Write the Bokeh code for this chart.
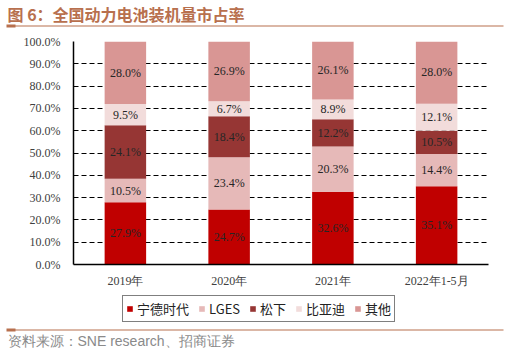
import numpy as np
from bokeh.plotting import figure
from bokeh.layouts import column
from bokeh.models import (ColumnDataSource, FactorRange, LabelSet, Legend,
                          LegendItem, PrintfTickFormatter, FixedTicker, Range1d)
from bokeh.core.properties import value
from bokeh.embed import file_html
from bokeh.resources import INLINE

categories = ["2019年", "2020年", "2021年", "2022年1-5月"]
series_names = ["宁德时代", "LGES", "松下", "比亚迪", "其他"]
catl = [27.9, 24.7, 32.6, 35.1]
lges = [10.5, 23.4, 20.3, 14.4]
panasonic = [24.1, 18.4, 12.2, 10.5]
byd = [9.5, 6.7, 8.9, 12.1]
others = [28.0, 26.9, 26.1, 28.0]
y_ticks = [0, 10, 20, 30, 40, 50, 60, 70, 80, 90, 100]
title_text = "图 6：全国动力电池装机量市占率"
source_text = "资料来源：SNE research、招商证券"

colors = ["#C00000", "#E6B9B8", "#963634", "#F2DCDB", "#D99694"]
keys = ["s0", "s1", "s2", "s3", "s4"]
series = [catl, lges, panasonic, byd, others]
brown = "#B8704E"

W = 511
HEAD_H = 33
MAIN_BOTTOM = 290
MAIN_H = MAIN_BOTTOM - HEAD_H
FOOT_H = 351 - MAIN_BOTTOM
L, R, T, B = 73, 488, 41, 264


def deco_fig(h):
    f = figure(width=W, height=h, x_range=Range1d(0, W), y_range=Range1d(h, 0),
               output_backend="svg", toolbar_location=None, title=None,
               x_axis_location=None, y_axis_location=None,
               min_border=0, min_border_left=0, min_border_right=0,
               min_border_top=0, min_border_bottom=0, frame_align=False)
    f.grid.visible = False
    f.outline_line_color = None
    f.background_fill_color = "white"
    f.border_fill_color = "white"
    return f


# header
head = deco_fig(HEAD_H)
head.text(x=[7], y=[13], text=[title_text], text_font=value("Noto Sans CJK SC"),
          text_font_style="bold", text_font_size="16px", text_color=brown,
          text_baseline="middle")
head.line(x=[7, 503], y=[25.5, 25.5], line_color=brown, line_width=1.2)
head.line(x=[6, 15], y=[25.5, 25.5], line_color=brown, line_width=2.8)

# main chart
data = {"cat": categories}
for k, s in zip(keys, series):
    data[k] = s
src = ColumnDataSource(data)

p = figure(x_range=FactorRange(*categories), y_range=(0, 100), width=W, height=MAIN_H,
           output_backend="svg", toolbar_location=None, frame_align=False, title=None,
           min_border_left=L, min_border_right=W - R, min_border_top=T - HEAD_H,
           min_border_bottom=MAIN_BOTTOM - B)
p.outline_line_color = None
p.background_fill_color = "white"
p.border_fill_color = None

p.vbar_stack(keys, x="cat", width=0.4, color=colors, line_color=None, source=src)

arr = np.array(series)
cum = np.cumsum(arr, axis=0)
lx, ly, lt = [], [], []
for i in range(arr.shape[0]):
    for j, c in enumerate(categories):
        lx.append(c)
        ly.append(cum[i, j] - arr[i, j] / 2)
        lt.append(f"{arr[i, j]:.1f}%")
lsrc = ColumnDataSource(dict(x=lx, y=ly, t=lt))
p.add_layout(LabelSet(x="x", y="y", text="t", source=lsrc, text_align="center",
                      text_baseline="middle", text_font="Liberation Serif",
                      text_font_size="12px", text_color="#262626"))

p.xgrid.visible = False
p.ygrid.grid_line_color = "black"
p.ygrid.grid_line_dash = "5 3"
p.ygrid.grid_line_width = 1.2
p.yaxis.ticker = FixedTicker(ticks=y_ticks)
p.yaxis.formatter = PrintfTickFormatter(format="%.1f%%")
for ax in (p.xaxis[0], p.yaxis[0]):
    ax.axis_line_color = "black"
    ax.axis_line_width = 1.5
    ax.major_tick_line_color = None
    ax.minor_tick_line_color = None
    ax.major_tick_out = 0
    ax.major_tick_in = 0
    ax.major_label_text_font = "Liberation Serif"
    ax.major_label_text_font_size = "12px"
    ax.major_label_text_color = "#404040"
p.yaxis.major_label_standoff = 13
p.xaxis.major_label_standoff = 9
p.x_range.range_padding = 0

# footer with legend and source
foot = deco_fig(FOOT_H)
legend_renderers = [foot.vbar(x=[0], top=[0], bottom=[0], width=0, color=c, line_color=None)
                    for c in colors]
items = [LegendItem(label=n, renderers=[r]) for n, r in zip(series_names, legend_renderers)]
legend = Legend(items=items, orientation="horizontal", location=(122, 29),
                glyph_width=7, glyph_height=7, label_standoff=4, spacing=9,
                padding=3, margin=0, label_height=16, border_line_color="black",
                border_line_width=1.2,
                label_text_font="Noto Sans CJK SC", label_text_font_size="13px",
                label_text_color="#222222", background_fill_color="white",
                background_fill_alpha=1)
foot.add_layout(legend, "center")

fy = 329.5 - MAIN_BOTTOM
foot.line(x=[7, 503], y=[fy, fy], line_color=brown, line_width=1.2)
foot.line(x=[6, 15], y=[fy, fy], line_color=brown, line_width=2.8)
foot.text(x=[7], y=[340 - MAIN_BOTTOM], text=[source_text],
          text_font=value("Liberation Sans"), text_font_size="14px", text_color="#8a8a8a",
          text_baseline="middle")

layout = column(head, p, foot, spacing=0)
open("out.html", "w").write(file_html(layout, INLINE))
